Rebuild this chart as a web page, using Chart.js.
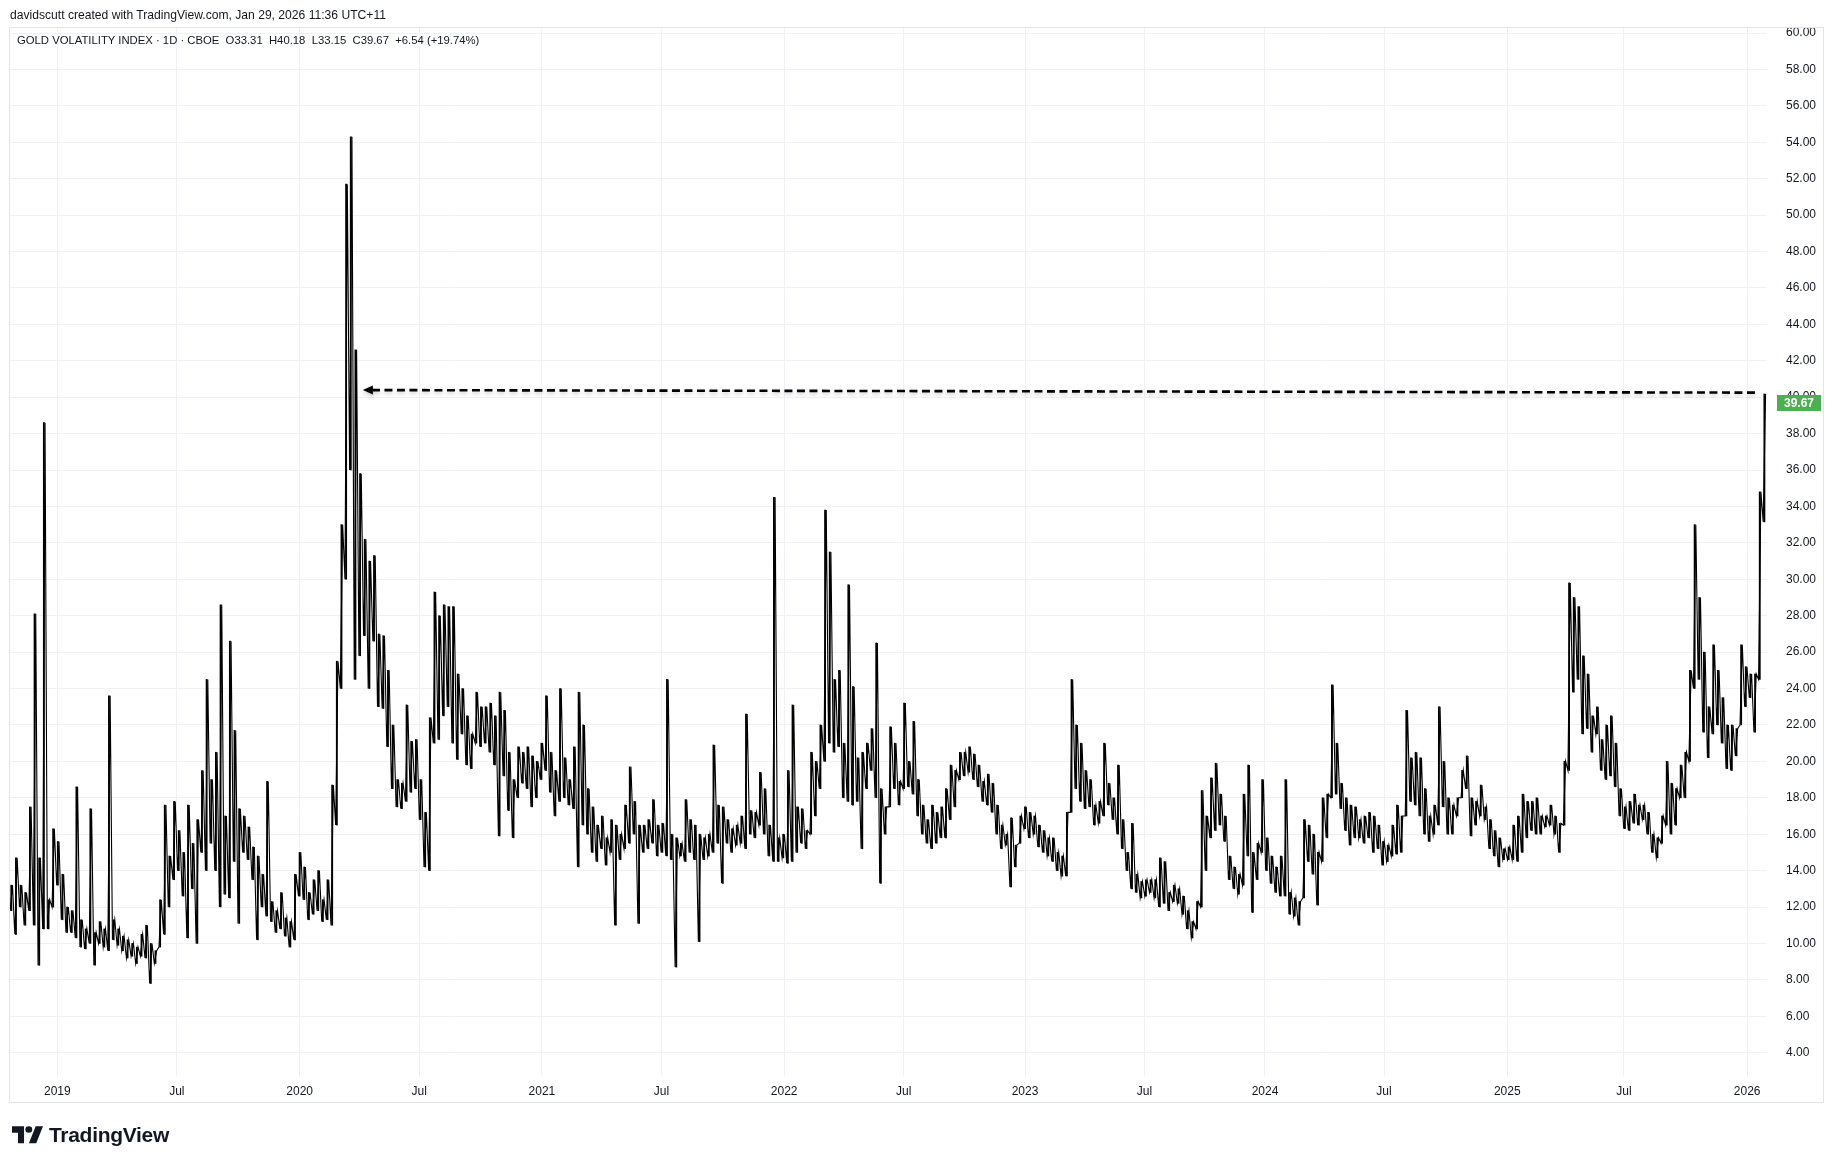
<!DOCTYPE html>
<html>
<head>
<meta charset="utf-8">
<script src="https://cdn.jsdelivr.net/npm/chart.js@4.4.1/dist/chart.umd.min.js"></script>
<style>
  html, body { margin: 0; padding: 0; background: #fff; }
  #wrap { position: relative; width: 1835px; height: 1164px; overflow: hidden; }
  #chart { position: absolute; left: 0; top: 0; }
  .txt {
    position: absolute; white-space: nowrap; color: #131722;
    font-family: "Liberation Sans", Arial, sans-serif; line-height: 1;
    transform: translateY(-50%);
  }
  #credit { left: 10px; top: 15px; font-size: 12px; }
  #legend { left: 17px; top: 41px; font-size: 12px; }
  #brand { left: 12px; top: 1134px; display: flex; align-items: center; }
  #brand span { font-weight: bold; font-size: 21px; margin-left: 6px; letter-spacing: -0.3px; }
</style>
</head>
<body>
<div id="wrap">
  <canvas id="chart" width="1835" height="1164"></canvas>
  <div id="credit" class="txt">davidscutt created with TradingView.com, Jan 29, 2026 11:36 UTC+11</div>
  <div id="legend" class="txt">GOLD VOLATILITY INDEX · 1D · CBOE&nbsp; O33.31&nbsp; H40.18&nbsp; L33.15&nbsp; C39.67&nbsp; +6.54 (+19.74%)</div>
  <div id="brand" class="txt">
    <svg width="31" height="18" viewBox="0 0 36 22" preserveAspectRatio="none">
      <path d="M14 22H7V9H0V1h14z" fill="#131722"/>
      <circle cx="19.5" cy="5" r="4" fill="#131722"/>
      <path d="M28 22h-8.5l8-21H36z" fill="#131722"/>
    </svg>
    <span>TradingView</span>
  </div>
</div>

<script>
// weekly low / high of the gold volatility index (Nov 2018 .. Jan 2026)
const weekLow = [
  11.8, 10.5, 12.0, 11.0, 11.8, 11.0, 8.8, 10.8, 10.8, 12.0,
  13.2, 11.3, 10.6, 10.6, 10.3, 9.8, 9.7, 10.0, 8.8, 10.0,
  9.8, 9.6, 10.2, 9.9, 9.6, 9.2, 9.3, 8.9, 9.3, 9.2,
  7.8, 8.9, 9.8, 10.5, 12.0, 13.5, 14.0, 12.6, 10.3, 13.0,
  10.0, 15.0, 14.0, 15.5, 14.0, 12.0, 12.7, 12.5, 14.5, 11.1,
  15.0, 14.6, 13.5, 10.2, 12.0, 11.5, 11.2, 10.6, 10.8, 10.4,
  9.8, 10.2, 12.6, 12.4, 11.3, 11.6, 11.8, 11.2, 11.3, 11.0,
  16.5, 24.0, 30.0, 36.0, 24.5, 25.8, 26.9, 24.0, 26.6, 23.0,
  22.9, 20.8, 18.5, 17.5, 17.4, 17.8, 18.3, 18.5, 16.8, 14.2,
  14.0, 21.0, 21.2, 22.5, 23.0, 21.0, 20.1, 21.5, 19.8, 19.6,
  21.0, 20.8, 21.0, 20.5, 19.8, 15.9, 19.2, 17.3, 15.8, 18.0,
  18.8, 18.5, 17.5, 18.0, 19.0, 19.5, 18.3, 17.0, 17.8, 18.0,
  17.6, 17.4, 14.2, 16.5, 16.0, 15.0, 14.5, 15.2, 14.3, 15.0,
  11.0, 14.6, 15.2, 15.5, 16.0, 11.1, 15.0, 15.2, 15.5, 14.8,
  15.0, 14.8, 14.6, 8.7, 14.8, 14.5, 15.0, 14.6, 10.1, 14.6,
  14.8, 15.0, 15.5, 13.3, 15.5, 15.0, 15.4, 15.5, 15.2, 16.0,
  15.8, 16.5, 16.0, 14.8, 14.5, 14.5, 14.7, 14.4, 14.5, 15.0,
  15.5, 15.2, 16.0, 17.0, 18.5, 20.0, 21.0, 20.5, 20.8, 18.0,
  17.8, 17.6, 17.8, 15.2, 18.5, 19.5, 18.0, 13.3, 16.0, 17.5,
  18.5, 17.6, 18.5, 18.6, 18.2, 17.0, 16.0, 15.5, 15.2, 15.5,
  15.8, 15.8, 16.8, 17.5, 19.0, 19.2, 19.4, 19.0, 18.6, 17.8,
  17.6, 17.2, 16.0, 15.2, 15.4, 13.1, 14.2, 15.5, 16.3, 15.8,
  16.0, 15.3, 15.0, 14.8, 14.5, 14.0, 13.7, 13.7, 17.2, 18.5,
  17.8, 17.4, 17.5, 16.5, 16.6, 17.0, 17.6, 16.8, 16.0, 15.2,
  14.0, 13.0, 12.8, 12.5, 12.6, 12.8, 12.5, 12.0, 12.2, 11.8,
  12.3, 12.2, 11.6, 10.8, 10.3, 10.8, 12.0, 14.0, 15.8, 16.2,
  16.5, 15.6, 13.5, 13.0, 12.7, 13.2, 14.8, 11.7, 13.5, 15.0,
  14.0, 13.3, 12.8, 12.6, 12.6, 11.6, 11.5, 11.0, 12.5, 14.5,
  13.8, 12.1, 14.5, 15.8, 18.0, 18.2, 17.4, 16.2, 15.4, 15.8,
  15.8, 15.5, 15.8, 15.0, 15.2, 14.3, 14.5, 14.8, 14.9, 15.0,
  17.0, 17.8, 17.6, 17.0, 16.0, 15.6, 16.0, 16.5, 17.5, 16.0,
  16.0, 17.0, 18.0, 18.5, 15.9, 16.5, 17.0, 16.8, 15.2, 14.8,
  14.2, 14.6, 14.6, 14.6, 14.5, 15.0, 15.8, 16.2, 16.0, 16.0,
  16.4, 16.5, 16.0, 15.0, 16.5, 19.5, 23.8, 24.5, 21.5, 21.8,
  20.5, 21.5, 19.5, 19.0, 19.2, 18.6, 17.0, 16.3, 16.2, 16.6,
  16.5, 16.8, 16.0, 15.0, 14.7, 15.5, 16.5, 16.0, 16.5, 18.0,
  18.0, 20.0, 24.0, 24.5, 21.6, 20.2, 21.5, 22.0, 21.0, 19.6,
  19.5, 20.3, 22.0, 23.0, 23.5, 21.6, 24.5, 33.15
];
const weekHigh = [
  13.2, 14.7, 13.2, 12.8, 17.5, 28.1, 14.7, 38.6, 12.4, 16.3,
  15.6, 13.8, 12.0, 11.8, 18.6, 11.3, 10.8, 17.4, 10.6, 11.2,
  10.8, 23.6, 11.3, 10.8, 10.4, 10.2, 10.0, 9.8, 10.5, 11.0,
  10.0, 9.6, 12.4, 17.6, 14.8, 17.8, 16.2, 15.0, 17.6, 15.5,
  16.8, 19.5, 24.5, 19.0, 20.5, 28.6, 17.0, 26.6, 21.7, 17.4,
  17.0, 16.4, 15.3, 14.8, 13.8, 18.9, 12.3, 11.8, 12.8, 11.4,
  11.2, 13.8, 15.0, 14.2, 12.8, 13.5, 14.0, 12.4, 13.5, 18.7,
  25.5, 33.0, 51.7, 54.3, 42.6, 35.8, 32.2, 31.0, 31.3, 27.0,
  26.9, 25.0, 22.0, 19.0, 18.8, 23.1, 21.1, 21.2, 19.0, 17.2,
  22.4, 29.3, 28.0, 28.6, 28.5, 28.5, 24.8, 24.0, 22.5, 21.5,
  23.8, 23.0, 23.0, 23.2, 22.5, 23.8, 22.8, 20.5, 19.0, 20.8,
  20.5, 20.8, 20.3, 20.0, 21.0, 23.6, 20.5, 19.5, 24.0, 20.2,
  19.0, 20.8, 23.8, 22.0, 18.5, 17.5, 16.5, 17.0, 15.8, 16.8,
  16.5, 16.0, 17.6, 19.7, 17.8, 16.5, 16.5, 16.8, 17.9, 16.5,
  16.6, 24.5, 16.0, 15.8, 15.5, 17.9, 16.8, 16.5, 16.0, 15.8,
  16.0, 20.9, 17.6, 17.5, 16.8, 16.3, 16.5, 17.0, 22.6, 17.3,
  17.2, 19.4, 18.5, 16.5, 34.5, 15.8, 16.0, 19.5, 23.1, 17.5,
  17.4, 16.2, 20.5, 20.0, 22.0, 33.8, 31.5, 24.5, 25.0, 21.0,
  29.7, 24.1, 20.2, 20.5, 21.0, 21.8, 26.5, 18.5, 17.5, 21.9,
  21.0, 18.9, 23.2, 20.0, 22.2, 19.0, 17.6, 16.8, 17.6, 17.2,
  17.5, 18.5, 19.8, 19.5, 20.5, 20.5, 20.8, 20.4, 19.8, 18.9,
  19.3, 18.8, 17.6, 16.5, 16.0, 16.9, 15.4, 17.0, 17.5, 17.2,
  17.0, 16.5, 16.2, 15.8, 15.8, 15.0, 14.8, 17.2, 24.5, 22.0,
  21.0, 19.5, 19.0, 17.6, 17.8, 21.0, 18.8, 18.0, 19.8, 16.8,
  15.0, 16.6, 13.8, 13.4, 13.5, 13.5, 13.5, 14.7, 14.5, 12.8,
  13.2, 13.0, 12.6, 11.8, 11.2, 12.3, 18.4, 17.0, 19.1, 19.9,
  18.2, 17.0, 14.8, 14.2, 13.8, 18.2, 19.8, 15.0, 15.5, 19.0,
  15.8, 14.8, 14.2, 14.8, 19.0, 12.8, 12.5, 12.3, 16.8, 16.5,
  16.0, 15.0, 18.0, 18.2, 24.2, 21.0, 18.8, 18.0, 17.6, 17.5,
  16.8, 17.0, 17.2, 17.0, 16.5, 15.6, 15.4, 16.5, 17.6, 17.0,
  22.8, 20.2, 20.5, 20.2, 18.5, 17.0, 17.6, 23.0, 20.0, 18.0,
  17.6, 18.0, 19.5, 20.3, 18.0, 17.8, 18.7, 17.5, 16.8, 16.2,
  15.8, 15.2, 15.3, 16.5, 17.0, 18.2, 17.8, 17.8, 18.0, 17.0,
  17.0, 17.6, 17.0, 16.6, 20.0, 29.8, 29.0, 28.5, 25.8, 24.8,
  22.5, 23.0, 21.2, 22.0, 22.5, 21.0, 18.5, 17.5, 17.8, 18.2,
  17.6, 17.6, 17.2, 16.0, 15.8, 17.0, 20.0, 18.8, 18.5, 19.8,
  20.5, 25.0, 33.0, 29.0, 26.0, 23.0, 26.4, 25.0, 23.5, 22.0,
  22.0, 21.8, 26.4, 25.2, 24.8, 24.8, 34.8, 40.18
];

// time axis labels and the week index they sit on
const timeTickWeek = [9.9, 35.6, 62.0, 87.7, 114.1, 139.8, 166.2, 191.9, 218.0, 243.7, 269.6, 295.2, 321.7, 346.8, 373.3];
const timeTickText = ['2019', 'Jul', '2020', 'Jul', '2021', 'Jul', '2022', 'Jul', '2023', 'Jul', '2024', 'Jul', '2025', 'Jul', '2026'];

// price axis labels
const priceTicks = [4, 6, 8, 10, 12, 14, 16, 18, 20, 22, 24, 26, 28, 30, 32, 34, 36, 38, 40,
                    42, 44, 46, 48, 50, 52, 54, 56, 58, 60];

const lastClose = 39.67;

// dashed arrow: from the last bar back to the 2020 level
const arrowWeeks = [374.97, 75.6];
const arrowValues = [40.25, 40.39];

const FONT = '"Liberation Sans", Arial, sans-serif';
const TEXT = '#131722';
const GRID = '#f0f1f4';

// weekly ranges as thin bars
const bars = weekLow.map((lo, i) => ({ x: i, y: [lo, weekHigh[i]] }));

// the same lows/highs joined low -> high inside each week, so it reads like the daily scribble
const swing = [];
weekLow.forEach((lo, i) => {
  swing.push({ x: i - 0.25, y: lo });
  swing.push({ x: i + 0.25, y: weekHigh[i] });
});

/* frame around the whole chart block */
const framePlugin = {
  id: 'frame',
  afterDraw(chart) {
    const ctx = chart.ctx;
    ctx.save();
    ctx.strokeStyle = '#e3e5ea';
    ctx.lineWidth = 1;
    ctx.strokeRect(9.5, 27.5, 1814, 1075);
    ctx.restore();
  }
};

/* dashed arrow pointing at the 2020 spike */
const arrowPlugin = {
  id: 'arrow',
  afterDatasetsDraw(chart) {
    const { ctx, scales } = chart;
    const x1 = scales.x.getPixelForValue(arrowWeeks[0]);
    const y1 = scales.y.getPixelForValue(arrowValues[0]);
    const x2 = scales.x.getPixelForValue(arrowWeeks[1]);
    const y2 = scales.y.getPixelForValue(arrowValues[1]);
    ctx.save();
    ctx.shadowColor = 'rgba(0,0,0,0.22)';
    ctx.shadowBlur = 4;
    ctx.shadowOffsetY = 2;
    ctx.strokeStyle = '#000';
    ctx.lineWidth = 2.6;
    ctx.setLineDash([8, 4.5]);
    ctx.beginPath();
    ctx.moveTo(x1, y1);
    ctx.lineTo(x2 + 8, y2);
    ctx.stroke();
    ctx.setLineDash([]);
    ctx.fillStyle = '#000';
    ctx.beginPath();
    ctx.moveTo(x2, y2);
    ctx.lineTo(x2 + 10, y2 - 4.5);
    ctx.lineTo(x2 + 10, y2 + 4.5);
    ctx.closePath();
    ctx.fill();
    ctx.restore();
  }
};

/* last price badge on the price axis */
const badgePlugin = {
  id: 'badge',
  afterDraw(chart) {
    const { ctx, scales, chartArea } = chart;
    const y = scales.y.getPixelForValue(lastClose);
    const x = chartArea.right + 10;
    ctx.save();
    ctx.fillStyle = '#4caf50';
    ctx.fillRect(x, Math.round(y - 8), 44, 16);
    ctx.fillStyle = '#fff';
    ctx.font = 'bold 12px ' + FONT;
    ctx.textAlign = 'center';
    ctx.textBaseline = 'middle';
    ctx.fillText(lastClose.toFixed(2), x + 22, y + 0.5);
    ctx.restore();
  }
};

new Chart(document.getElementById('chart'), {
  type: 'bar',
  data: {
    datasets: [{
      type: 'line',
      data: swing,
      borderColor: '#000',
      borderWidth: 1.1,
      pointRadius: 0,
      tension: 0,
      fill: false
    }, {
      data: bars,
      backgroundColor: '#000',
      borderWidth: 0,
      barThickness: 1.2,
      grouped: false
    }]
  },
  options: {
    responsive: false,
    animation: false,
    devicePixelRatio: 1,
    layout: { padding: { left: 9, top: 27, right: 12, bottom: 62 } },
    plugins: {
      legend: { display: false },
      tooltip: { enabled: false }
    },
    scales: {
      x: {
        type: 'linear',
        min: -0.5,
        max: 377.56,
        offset: false,
        afterBuildTicks: s => { s.ticks = timeTickWeek.map(v => ({ value: v })); },
        afterFit: s => { s.height = 26; },
        grid: { color: GRID, drawTicks: false, offset: false },
        border: { display: false },
        ticks: {
          autoSkip: false,
          maxRotation: 0,
          padding: 8,
          color: TEXT,
          font: { size: 12, family: FONT },
          callback: (v, i) => timeTickText[i]
        }
      },
      y: {
        position: 'right',
        min: 2.72,
        max: 60.33,
        afterBuildTicks: s => { s.ticks = priceTicks.map(v => ({ value: v })); },
        afterFit: s => { s.width = 56; },
        grid: { color: GRID, drawTicks: false },
        border: { display: false },
        ticks: {
          padding: 19,
          color: TEXT,
          font: { size: 12, family: FONT },
          callback: v => Number(v).toFixed(2)
        }
      }
    }
  },
  plugins: [framePlugin, arrowPlugin, badgePlugin]
});

// size header texts to the widths they have in the snapshot
function fitWidth(el, target) {
  const w = el.getBoundingClientRect().width;
  const fs = parseFloat(getComputedStyle(el).fontSize);
  el.style.fontSize = (fs * target / w).toFixed(2) + 'px';
}
fitWidth(document.getElementById('credit'), 376);
fitWidth(document.getElementById('legend'), 463);
fitWidth(document.querySelector('#brand span'), 120);
</script>
</body>
</html>
